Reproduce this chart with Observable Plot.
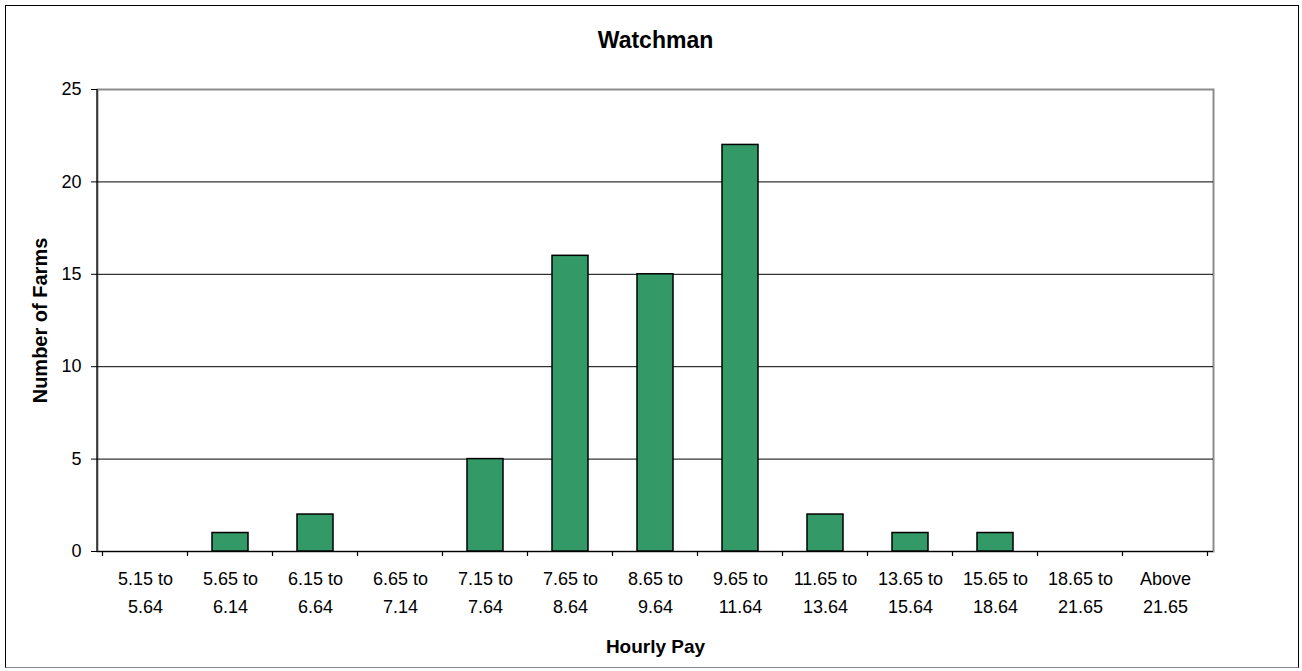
<!DOCTYPE html>
<html>
<head>
<meta charset="utf-8">
<script src="https://cdn.jsdelivr.net/npm/d3@7"></script>
<script src="https://cdn.jsdelivr.net/npm/@observablehq/plot@0.6"></script>
<style>
  body { margin: 0; background: #fff; }
  #wrap { position: relative; width: 1302px; height: 671px; }
  #border { position: absolute; left: 5px; top: 5px; width: 1294px; height: 663px; border: 1.5px solid #000; border-bottom-color: #888; box-sizing: border-box; pointer-events: none; }
  #wrap svg { position: absolute; left: 0; top: 0; }
</style>
</head>
<body>
<div id="wrap"><div id="border"></div></div>
<script>
const categories = ["5.15 to\n5.64", "5.65 to\n6.14", "6.15 to\n6.64", "6.65 to\n7.14", "7.15 to\n7.64", "7.65 to\n8.64", "8.65 to\n9.64", "9.65 to\n11.64", "11.65 to\n13.64", "13.65 to\n15.64", "15.65 to\n18.64", "18.65 to\n21.65", "Above\n21.65"];
const farms = [0, 1, 2, 0, 5, 16, 15, 22, 2, 1, 1, 0, 0];
const yTicks = [0, 5, 10, 15, 20, 25];
const title = "Watchman";
const xTitle = "Hourly Pay";
const yTitle = "Number of Farms";

const data = categories.map((c, i) => ({cat: c, v: farms[i]}));
const font = "'Liberation Sans', Arial, sans-serif";

const plot = Plot.plot({
  width: 1302,
  height: 671,
  marginLeft: 97,
  marginRight: 89,
  marginTop: 89,
  marginBottom: 120,
  style: {fontFamily: font, fontSize: "18px", color: "#000", background: "transparent", overflow: "visible"},
  x: {domain: categories, paddingInner: 0.58, paddingOuter: 0.29, label: null},
  y: {domain: [0, 25], ticks: yTicks, label: null},
  marks: [
    Plot.frame({stroke: "#8c8c8c", strokeWidth: 2}),
    Plot.gridY(yTicks.filter(d => d > 0 && d < 25), {stroke: "#000", strokeOpacity: 1, strokeWidth: 1}),
    Plot.barY(data, {x: "cat", y: "v", filter: d => d.v > 0, fill: "#339966", stroke: "#000", strokeWidth: 1.5}),
    Plot.ruleY([0], {stroke: "#000", strokeWidth: 1.2}),
    Plot.axisY({ticks: yTicks, tickSize: 6, tickPadding: 10, fontSize: 18, stroke: "#000"}),
    Plot.axisX({tickSize: 0, tickPadding: 13, fontSize: 18, lineHeight: 1.58}),
    Plot.text([title], {frameAnchor: "top", dy: -49, lineAnchor: "middle", fontSize: 23, fontWeight: "bold"}),
    Plot.text([xTitle], {frameAnchor: "bottom", dy: 95, lineAnchor: "middle", fontSize: 19, fontWeight: "bold"}),
    Plot.text([yTitle], {frameAnchor: "left", dx: -57, rotate: -90, lineAnchor: "middle", textAnchor: "middle", fontSize: 20, fontWeight: "bold"})
  ]
});

// Excel-style axis line at left and tick marks at category boundaries
const xs = plot.scale("x");
const ys = plot.scale("y");
const svg = d3.select(plot);
const y0 = ys.apply(0);
const g = svg.append("g").attr("stroke", "#000").attr("stroke-width", 1.2);
g.append("line").attr("x1", 97).attr("x2", 97).attr("y1", ys.apply(25)).attr("y2", y0);
const bounds = categories.map(c => xs.apply(c) - (xs.step - xs.bandwidth) / 2);
bounds.push(xs.apply(categories[categories.length - 1]) + xs.bandwidth + (xs.step - xs.bandwidth) / 2);
bounds.forEach(b => g.append("line").attr("x1", b).attr("x2", b).attr("y1", y0).attr("y2", y0 + 5));

document.getElementById("wrap").appendChild(plot);
</script>
</body>
</html>
